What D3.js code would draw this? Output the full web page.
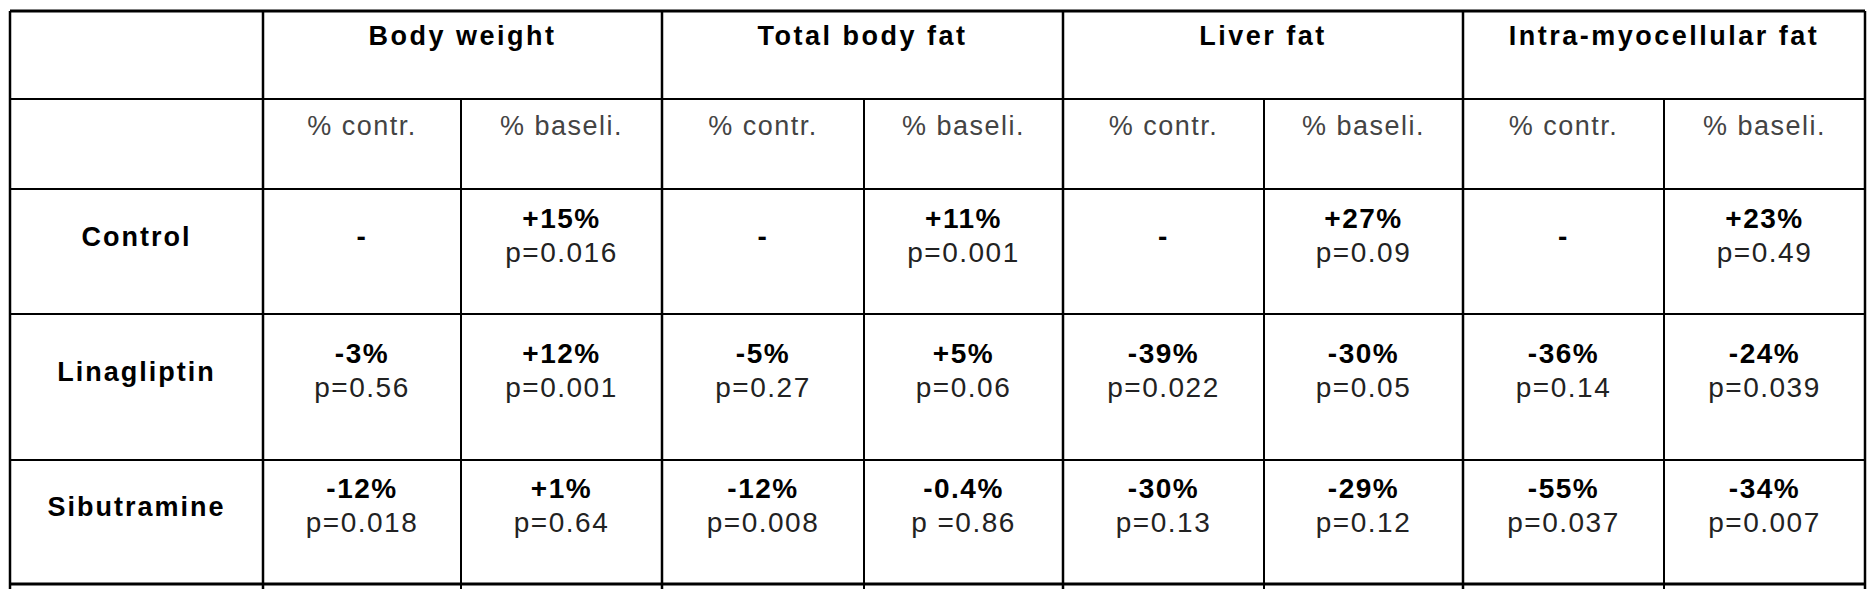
<!DOCTYPE html><html><head><meta charset="utf-8"><script src="https://cdn.jsdelivr.net/npm/d3@7"></script>
<style>body{margin:0;background:#fff}</style></head><body><svg id="c" width="1867" height="589"></svg>
<script>
const groups=["Body weight","Total body fat","Liver fat","Intra-myocellular fat"];
const subHeaders=["% contr.","% baseli."];
const rowLabels=["Control","Linagliptin","Sibutramine"];
const changes=[
 ["-","+15%","-","+11%","-","+27%","-","+23%"],
 ["-3%","+12%","-5%","+5%","-39%","-30%","-36%","-24%"],
 ["-12%","+1%","-12%","-0.4%","-30%","-29%","-55%","-34%"]];
const pvals=[
 ["","p=0.016","","p=0.001","","p=0.09","","p=0.49"],
 ["p=0.56","p=0.001","p=0.27","p=0.06","p=0.022","p=0.05","p=0.14","p=0.039"],
 ["p=0.018","p=0.64","p=0.008","p =0.86","p=0.13","p=0.12","p=0.037","p=0.007"]];
const colEdges=[10,263,461,662,864,1063,1264,1463,1664,1865];
const rowEdges=[11,99,189,314,460,584];
const svg=d3.select("#c");
const F="Liberation Sans, Arial, sans-serif";
const cx=i=>(colEdges[i]+colEdges[i+1])/2;
const g=svg.append("g").attr("stroke","#000");
rowEdges.forEach((y,i)=>g.append("line").attr("x1",colEdges[0]).attr("x2",colEdges[9]).attr("y1",y).attr("y2",y).attr("stroke-width",(i==0||i==5)?3:2));
colEdges.forEach((x,i)=>{
 const full=(i==0||i%2==1||i==9);
 g.append("line").attr("x1",x).attr("x2",x).attr("y1",full?rowEdges[0]:rowEdges[1]).attr("y2",rowEdges[5]+5).attr("stroke-width",full?2.5:2);
});
const T=(x,y,t,o)=>svg.append("text").attr("x",x).attr("y",y).attr("text-anchor","middle").attr("font-family",F).attr("font-size",o.s).attr("font-weight",o.b?"bold":"normal").attr("letter-spacing",o.ls).attr("fill",o.c||"#000").text(t);
groups.forEach((t,k)=>T((colEdges[1+2*k]+colEdges[3+2*k])/2,45,t,{s:27,b:1,ls:2.5}));
for(let j=0;j<8;j++)T(cx(j+1),135,subHeaders[j%2],{s:27,ls:1.5,c:"#444"});
rowLabels.forEach((r,i)=>{
 const mid=(rowEdges[i+2]+rowEdges[i+3])/2-18;
 T(cx(0),mid+12,r,{s:27,b:1,ls:2});
 for(let j=0;j<8;j++){
  const single=pvals[i][j]==="";
  T(cx(j+1),single?mid+12:mid-6,changes[i][j],{s:28,b:1,ls:1.5});
  T(cx(j+1),mid+28,pvals[i][j],{s:28,ls:1.5,c:"#222"});
 }
});
</script></body></html>
